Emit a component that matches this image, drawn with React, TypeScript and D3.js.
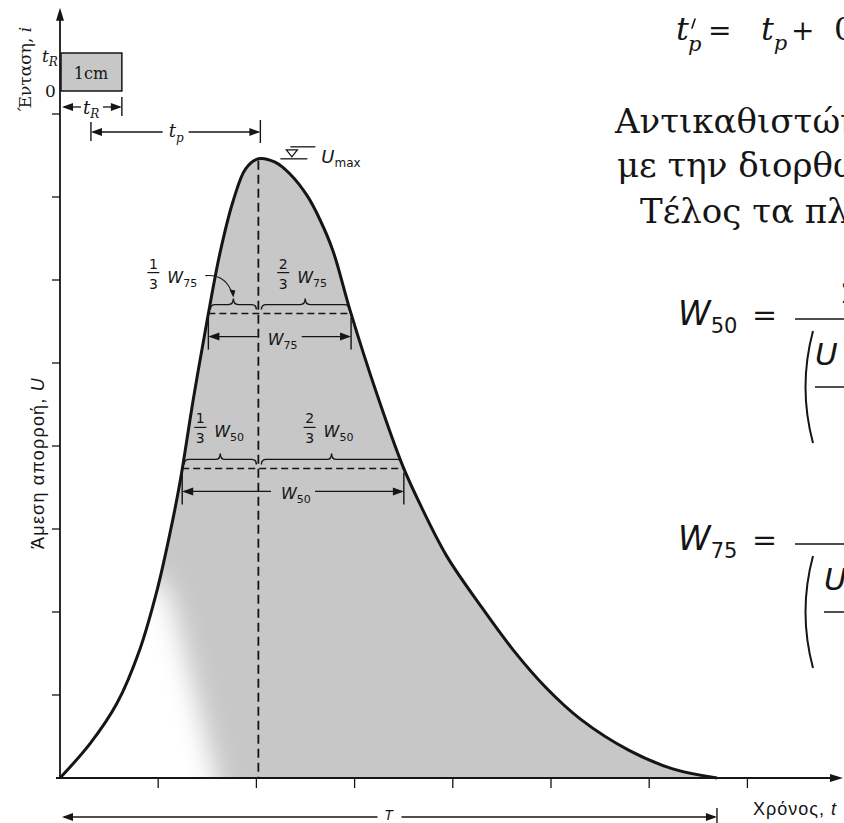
import * as d3 from 'd3';

const WIDTH = 844;
const HEIGHT = 823;
const ORIGIN_X = 60;
const ORIGIN_Y = 778;
const T_STEP = 98.2; // px per time tick
const U_STEP = 83; // px per discharge tick

// hydrograph ordinates (time ticks, discharge ticks)
const hydroT = [0, 0.31, 0.58, 0.81, 0.99, 1.12, 1.22, 1.36, 1.51, 1.63, 1.76, 1.89, 2.02,
  2.19, 2.34, 2.52, 2.65, 2.78, 2.96, 3.22, 3.49, 3.67, 3.94, 4.28, 4.61, 4.94, 5.3, 5.8, 6.24, 6.69];
const hydroU = [0, 0.42, 0.9, 1.54, 2.27, 2.95, 3.55, 4.58, 5.59, 6.33, 6.94, 7.34, 7.46,
  7.42, 7.28, 7.01, 6.72, 6.35, 5.61, 4.65, 3.76, 3.29, 2.67, 2.08, 1.55, 1.1, 0.71, 0.33, 0.11, 0];
const xTicks = [1, 2, 3, 4, 5, 6, 7];
const yTicks = [1, 2, 3, 4, 5, 6, 7, 8];
const rainDuration = 0.63;
const widthLevels = [0.75, 0.5];
const widthSubs = ['75', '50'];

const x = d3.scaleLinear().domain([0, 8]).range([ORIGIN_X, ORIGIN_X + 8 * T_STEP]);
const y = d3.scaleLinear().domain([0, 9.28]).range([ORIGIN_Y, ORIGIN_Y - 9.28 * U_STEP]);

const INK = '#151515';
const FILL = '#c7c7c7';
const SERIF = 'DejaVu Serif, serif';
const SANS = 'DejaVu Sans, sans-serif';
const LSANS = 'Liberation Sans, Arial, sans-serif';

function crossing(level: number, rising: boolean) {
  const pk = hydroU.indexOf(d3.max(hydroU) as number);
  const idx = rising ? d3.range(0, pk) : d3.range(pk, hydroT.length - 1);
  for (const i of idx) {
    const u0 = hydroU[i];
    const u1 = hydroU[i + 1];
    if ((u0 - level) * (u1 - level) <= 0 && u0 !== u1) {
      return hydroT[i] + ((level - u0) / (u1 - u0)) * (hydroT[i + 1] - hydroT[i]);
    }
  }
  return NaN;
}

function head(xt: number, yt: number, dir: number) {
  return `${xt},${yt} ${xt - dir * 11},${yt - 4} ${xt - dir * 11},${yt + 4}`;
}

function brace(x1: number, x2: number, yb: number) {
  const m = (x1 + x2) / 2;
  return `M${x1},${yb + 5} Q${x1},${yb} ${x1 + 5},${yb} L${m - 5},${yb} Q${m},${yb} ${m},${yb - 6}` +
    ` Q${m},${yb} ${m + 5},${yb} L${x2 - 5},${yb} Q${x2},${yb} ${x2},${yb + 5}`;
}

interface DimProps {
  x1: number;
  x2: number;
  y: number;
  gap: number;
  leftBar?: [number, number];
  rightBar?: [number, number];
  width?: number;
}

function DimLine({ x1, x2, y: yy, gap, leftBar, rightBar, width = 1.4 }: DimProps) {
  const mid = (x1 + x2) / 2;
  return (
    <g stroke={INK} fill={INK}>
      <line x1={x1 + 2} x2={mid - gap} y1={yy} y2={yy} strokeWidth={width} />
      <line x1={mid + gap} x2={x2 - 2} y1={yy} y2={yy} strokeWidth={width} />
      <polygon points={head(x1, yy, -1)} stroke="none" />
      <polygon points={head(x2, yy, 1)} stroke="none" />
      {leftBar && <line x1={x1} x2={x1} y1={leftBar[0]} y2={leftBar[1]} strokeWidth={1.4} />}
      {rightBar && <line x1={x2} x2={x2} y1={rightBar[0]} y2={rightBar[1]} strokeWidth={1.4} />}
    </g>
  );
}

function FracW({ fx, yL, num, sub }: { fx: number; yL: number; num: string; sub: string }) {
  return (
    <g fill={INK}>
      <text x={fx} y={yL - 45} fontFamily={SANS} fontSize={14} textAnchor="middle">{num}</text>
      <line x1={fx - 6} x2={fx + 6} y1={yL - 41} y2={yL - 41} stroke={INK} strokeWidth={1.2} />
      <text x={fx} y={yL - 25} fontFamily={SANS} fontSize={14} textAnchor="middle">3</text>
      <text x={fx + 14} y={yL - 31} fontFamily={SANS} fontSize={16} fontStyle="italic">
        W<tspan fontSize={11} dy={4} fontStyle="normal">{sub}</tspan>
      </text>
    </g>
  );
}

export default function App() {
  const peakIdx = hydroU.indexOf(d3.max(hydroU) as number);
  const peakT = hydroT[peakIdx];
  const peakU = hydroU[peakIdx];
  const endT = hydroT[hydroT.length - 1];

  const pts = hydroT.map((t, i) => [t, hydroU[i]] as [number, number]);
  const curve = d3.curveCatmullRom.alpha(0.5);
  const line = d3.line<[number, number]>().x(d => x(d[0])).y(d => y(d[1])).curve(curve);
  const area = d3.area<[number, number]>()
    .x(d => x(d[0])).y0(y(0)).y1(d => y(d[1])).curve(curve);
  const curvePath = line(pts) ?? '';
  const areaPath = area(pts) ?? '';

  const px = x(peakT);
  const py = y(peakU);

  const widths = widthLevels.map((f, i) => {
    const level = f * peakU;
    return {
      f,
      sub: widthSubs[i],
      yL: y(level),
      xL: x(crossing(level, true)),
      xR: x(crossing(level, false)),
    };
  });

  // faded patch of the scanned tone near the lower rising limb
  const fade = [[-0.4, -0.4], [0.95, 2.5], [1.12, 2.2], [1.68, -0.4]]
    .map(([t, u]) => `${x(t)},${y(u)}`).join(' ');

  return (
    <svg width={WIDTH} height={HEIGHT} style={{ position: 'absolute', left: 0, top: 0, background: '#fff' }}>
      <defs>
        <clipPath id="under-curve">
          <path d={areaPath} />
        </clipPath>
        <filter id="soft" x="-50%" y="-50%" width="200%" height="200%">
          <feGaussianBlur stdDeviation="13" />
        </filter>
      </defs>

      {/* shaded runoff volume */}
      <path d={areaPath} fill={FILL} />
      <g clipPath="url(#under-curve)">
        <polygon points={fade} fill="#fff" filter="url(#soft)" />
      </g>

      {/* peak vertical */}
      <line x1={px} x2={px} y1={py + 2} y2={y(0)} stroke={INK} strokeWidth={1.8} strokeDasharray="9 5" />

      {/* widths W75, W50 */}
      {widths.map(w => {
        const lTip = (w.xL + 2 + px - 2) / 2;
        const rTip = (px + 3 + w.xR - 2) / 2;
        const arrowY = w.yL + 23;
        const leftFx = w.f === 0.75 ? lTip - 80 : lTip - 20;
        return (
          <g key={w.sub}>
            <path d={brace(w.xL + 2, px - 2, w.yL - 9)} fill="none" stroke={INK} strokeWidth={1.4} />
            <path d={brace(px + 3, w.xR - 2, w.yL - 9)} fill="none" stroke={INK} strokeWidth={1.4} />
            <line x1={w.xL} x2={w.xR} y1={w.yL} y2={w.yL} stroke={INK} strokeWidth={1.5} strokeDasharray="7 4" />
            <DimLine x1={w.xL} x2={w.xR} y={arrowY} gap={22}
              leftBar={[w.yL + 4, arrowY + 13]} rightBar={[w.yL + 4, arrowY + 13]} />
            <text x={(w.xL + w.xR) / 2 - 12} y={arrowY + 8} fontFamily={SANS} fontSize={16}
              fontStyle="italic" fill={INK}>
              W<tspan fontSize={11} dy={4} fontStyle="normal">{w.sub}</tspan>
            </text>
            <FracW fx={leftFx} yL={w.yL} num="1" sub={w.sub} />
            <FracW fx={rTip - 22} yL={w.yL} num="2" sub={w.sub} />
            {w.f === 0.75 && (
              <g>
                <path d={`M${leftFx + 52},${w.yL - 38} Q${lTip - 8},${w.yL - 40} ${lTip - 1},${w.yL - 20}`}
                  fill="none" stroke={INK} strokeWidth={1.1} />
                <polygon points={`${lTip},${w.yL - 16} ${lTip - 4},${w.yL - 24} ${lTip + 2},${w.yL - 23}`} fill={INK} />
              </g>
            )}
          </g>
        );
      })}

      {/* hydrograph */}
      <path d={curvePath} fill="none" stroke={INK} strokeWidth={3} strokeLinejoin="round" />

      {/* axes */}
      <line x1={x(0)} x2={x(0)} y1={y(0) + 1} y2={y(9.28) + 10} stroke={INK} strokeWidth={1.8} />
      <polygon points={`${x(0)},${y(9.28)} ${x(0) - 4},${y(9.28) + 13} ${x(0) + 4},${y(9.28) + 13}`} fill={INK} />
      <line x1={x(0) - 4} x2={WIDTH - 12} y1={y(0)} y2={y(0)} stroke={INK} strokeWidth={1.8} />
      <polygon points={`${WIDTH - 1},${y(0)} ${WIDTH - 14},${y(0) - 4} ${WIDTH - 14},${y(0) + 4}`} fill={INK} />
      {xTicks.map(t => (
        <line key={t} x1={x(t)} x2={x(t)} y1={y(0)} y2={y(0) + 10} stroke={INK} strokeWidth={1.3} />
      ))}
      {yTicks.map(u => (
        <line key={u} x1={x(0) - 8} x2={x(0)} y1={y(u)} y2={y(u)} stroke={INK} strokeWidth={1.3} />
      ))}

      {/* rainfall block */}
      <rect x={x(0) + 1} y={53} width={x(rainDuration) - x(0) - 1} height={38} fill={FILL} stroke={INK} strokeWidth={1.5} />
      <text x={(x(0) + x(rainDuration)) / 2} y={79} textAnchor="middle" fontFamily={SERIF} fontSize={16} fill={INK}>1cm</text>
      <text x={42} y={62} fontFamily={SERIF} fontSize={17} fontStyle="italic" fill={INK}>
        t<tspan fontSize={12} dy={4}>R</tspan>
      </text>
      <text x={45} y={97} fontFamily={SERIF} fontSize={17} fill={INK}>0</text>
      <text transform="translate(31,69) rotate(-90)" textAnchor="middle" fontFamily={SERIF} fontSize={17} fill={INK}>
        Ένταση, <tspan fontStyle="italic">i</tspan>
      </text>

      <DimLine x1={x(0) + 2} x2={x(rainDuration)} y={107} gap={11} rightBar={[97, 116]} width={1.3} />
      <text x={x(rainDuration / 2) - 8} y={114} fontFamily={SERIF} fontSize={18} fontStyle="italic" fill={INK}>
        t<tspan fontSize={12} dy={4}>R</tspan>
      </text>

      <DimLine x1={x(rainDuration / 2)} x2={px + 2} y={132} gap={13} leftBar={[122, 141]} rightBar={[120, 143]} width={1.3} />
      <text x={(x(rainDuration / 2) + px) / 2 - 6} y={137} fontFamily={SERIF} fontSize={18} fontStyle="italic" fill={INK}>
        t<tspan fontSize={12} dy={5}>p</tspan>
      </text>

      {/* U max marker */}
      <g stroke={INK} strokeWidth={1.3} fill="none">
        <line x1={px + 32} x2={px + 57} y1={py - 12} y2={py - 12} />
        <polygon points={`${px + 28},${py - 9} ${px + 39},${py - 9} ${px + 33.5},${py - 2}`} />
        <line x1={px + 22} x2={px + 49} y1={py} y2={py} />
      </g>
      <text x={px + 63} y={py + 4} fontFamily={SANS} fontSize={18} fontStyle="italic" fill={INK}>
        U<tspan fontSize={12} dy={4} fontStyle="normal">max</tspan>
      </text>

      {/* base time */}
      <DimLine x1={x(0) + 2} x2={x(endT)} y={817} gap={12} rightBar={[808, 826]} width={1.3} />
      <text x={(x(0) + x(endT)) / 2} y={820} textAnchor="middle" fontFamily={LSANS} fontSize={14} fontStyle="italic" fill={INK}>T</text>

      {/* axis titles */}
      <text x={753} y={815} fontFamily={LSANS} fontSize={18} letterSpacing={1} fill={INK}>
        Χρόνος, <tspan fontStyle="italic">t</tspan>
      </text>
      <text transform="translate(44,463) rotate(-90)" textAnchor="middle" fontFamily={LSANS} fontSize={18}
        letterSpacing={1.2} fill={INK}>
        Άμεση απορροή, <tspan fontStyle="italic">U</tspan>
      </text>

      {/* neighbouring page text */}
      <g fill={INK} fontFamily={SERIF}>
        <text x={676} y={40} fontSize={32} fontStyle="italic">t</text>
        <line x1={695} x2={692} y1={19} y2={28} stroke={INK} strokeWidth={1.6} strokeLinecap="round" />
        <text x={688} y={51} fontSize={21} fontStyle="italic">p</text>
        <text x={708} y={40} fontSize={28}>=</text>
        <text x={761} y={40} fontSize={32} fontStyle="italic">
          t<tspan fontSize={21} dy={10}>p</tspan>
        </text>
        <text x={791} y={40} fontSize={28}>+</text>
        <text x={834} y={40} fontSize={32}>0.25(t′ − t)</text>

        <text x={615} y={133} fontSize={34}>Αντικαθιστώντας</text>
        <text x={617} y={177} fontSize={34}>με την διορθωμένη</text>
        <text x={640} y={223} fontSize={34}>Τέλος τα πλάτη</text>
      </g>

      {[{ sub: '50', base: 325, num: '2.14', ux: 815 }, { sub: '75', base: 550, num: '1.22', ux: 824 }].map(fm => (
        <g key={fm.sub} fill={INK}>
          <text x={678} y={fm.base} fontFamily={SANS} fontSize={33} fontStyle="italic">
            W<tspan fontSize={21} dy={8} fontStyle="normal">{fm.sub}</tspan>
          </text>
          <text x={752} y={fm.base} fontFamily={SERIF} fontSize={30}>=</text>
          <line x1={795} x2={WIDTH + 40} y1={fm.base - 6} y2={fm.base - 6} stroke={INK} strokeWidth={1.6} />
          <text x={841} y={fm.base - 22} fontFamily={SERIF} fontSize={28}>{fm.num}</text>
          <path d={`M${813},${fm.base + 6} Q${798},${fm.base + 62} ${813},${fm.base + 118}`} fill="none" stroke={INK} strokeWidth={2} />
          <text x={fm.ux} y={fm.base + 40} fontFamily={SANS} fontSize={31} fontStyle="italic">U</text>
          <line x1={fm.ux} x2={WIDTH + 40} y1={fm.base + 62} y2={fm.base + 62} stroke={INK} strokeWidth={1.6} />
        </g>
      ))}
    </svg>
  );
}
